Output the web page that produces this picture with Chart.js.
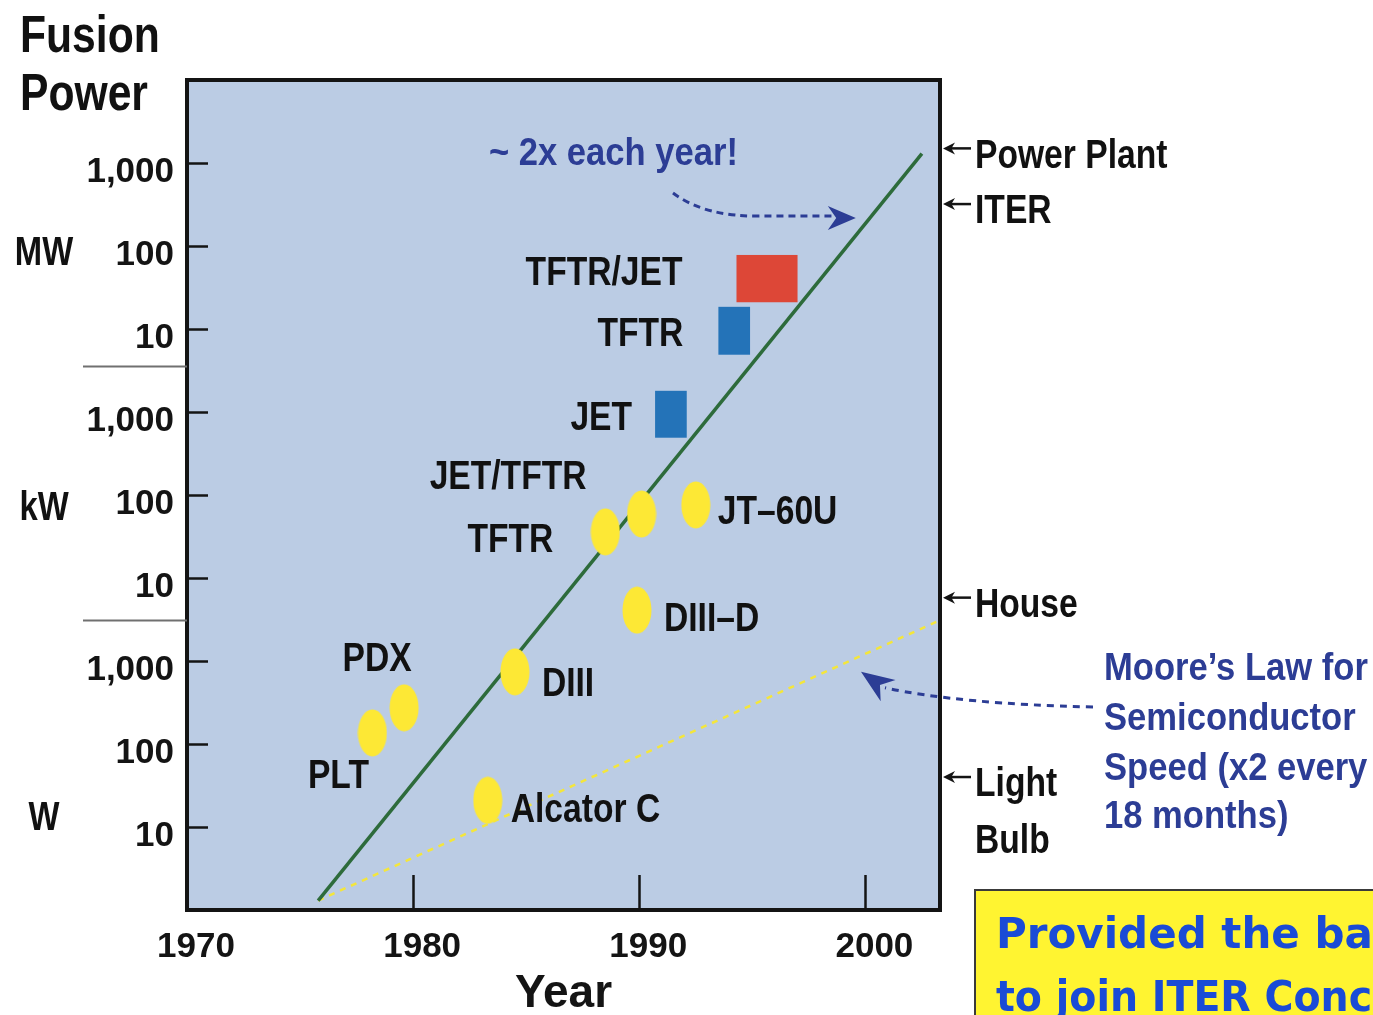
<!DOCTYPE html>
<html>
<head>
<meta charset="utf-8">
<title>Fusion Power</title>
<script src="https://cdn.jsdelivr.net/npm/chart.js@4.4.1/dist/chart.umd.min.js"></script>
<style>
  html, body { margin: 0; padding: 0; background: #ffffff; }
  #wrap { position: relative; width: 1373px; height: 1015px; }
</style>
</head>
<body>
<div id="wrap"><canvas id="fusion"></canvas></div>
<script>
// ---- Data -------------------------------------------------------------
// Tokamak results (year, fusion power in watts)
const shotNames = ['PLT', 'PDX', 'Alcator C', 'DIII', 'TFTR', 'JET/TFTR', 'JT–60U', 'DIII–D'];
const shotYears = [1978.2, 1979.6, 1983.3, 1984.5, 1988.5, 1990.1, 1992.5, 1989.9];
const shotWatts = [136, 273, 21, 740, 3.6e4, 5.9e4, 7.6e4, 4.1e3];

// Deuterium–tritium campaigns (year span, power span in watts)
const dtNames = ['TFTR/JET', 'TFTR', 'JET'];
const dtYearFrom = [1994.3, 1993.5, 1990.7];
const dtYearTo = [1997.0, 1994.9, 1992.1];
const dtWattLow = [2.1e7, 4.9e6, 4.9e5];
const dtWattHigh = [7.8e7, 1.85e7, 1.8e6];

// Trend lines
const fusionTrendYears = [1975.8, 2002.5];
const fusionTrendWatts = [1.3, 1.3e9];
const mooreYears = [1975.8, 2003.3];
const mooreWatts = [1.3, 3.1e3];

// Reference power levels marked on the right edge
const refNames = [['Power Plant'], ['ITER'], ['House'], ['Light', 'Bulb']];
const refWatts = [1.5e9, 3.2e8, 5.8e3, 40];

// Axis ticks
const yearTicks = [1970, 1980, 1990, 2000];
const wattTicks = [10, 100, 1e3, 1e4, 1e5, 1e6, 1e7, 1e8, 1e9];
const wattTickLabels = ['10', '100', '1,000', '10', '100', '1,000', '10', '100', '1,000'];
const unitNames = ['W', 'kW', 'MW'];
const unitTickWatts = [10, 1e5, 1e8];

// ---- Fonts ------------------------------------------------------------
const NARROW = '"Liberation Sans Narrow", "Arial Narrow", "Liberation Sans", Arial, sans-serif';
const WIDE = '"Liberation Sans", Arial, sans-serif';
function narrowAvailable() {
  const c = document.createElement('canvas').getContext('2d');
  c.font = 'bold 40px ' + WIDE;
  const w1 = c.measureText('MMMMMM').width;
  c.font = 'bold 40px ' + NARROW;
  const w2 = c.measureText('MMMMMM').width;
  return w2 < w1 * 0.92;
}
const HAS_NARROW = narrowAvailable();
const COND_FAMILY = HAS_NARROW ? NARROW : WIDE;
const COND_SX = HAS_NARROW ? 1 : 0.82;

function drawText(ctx, s, x, y, o) {
  ctx.save();
  ctx.font = 'bold ' + o.size + 'px ' + (o.family || COND_FAMILY);
  ctx.fillStyle = o.color || '#111111';
  ctx.textAlign = o.align || 'left';
  ctx.textBaseline = o.baseline || 'middle';
  ctx.translate(x, y);
  ctx.scale(o.sx !== undefined ? o.sx : COND_SX, 1);
  ctx.fillText(s, 0, 0);
  ctx.restore();
}

// ---- Styles -----------------------------------------------------------
const INK = '#141414';
const NAVY = '#2C3D95';
const PLOT_BG = '#BBCCE4';
const dtColors = ['#DD4737', '#2473B8', '#2473B8'];

// label placement relative to each mark (pixels)
const shotLabelPlace = [
  { dx: -34, dy: 44, align: 'center' },
  { dx: -27, dy: -48, align: 'center' },
  { dx: 23, dy: 10, align: 'left' },
  { dx: 27, dy: 13, align: 'left' },
  { dx: -52, dy: 9, align: 'right' },
  { dx: -55, dy: -36, align: 'right' },
  { dx: 22, dy: 8, align: 'left' },
  { dx: 27, dy: 10, align: 'left' }
];
const dtLabelPlace = [
  { dx: -54, dy: -5 },
  { dx: -35, dy: 4 },
  { dx: -23, dy: 4 }
];

// yellow elliptical marker
const ellipseMarker = (() => {
  const c = document.createElement('canvas');
  c.width = 30; c.height = 48;
  const g = c.getContext('2d');
  g.fillStyle = '#FDE835';
  g.beginPath();
  g.ellipse(15, 24, 14.5, 23.5, 0, 0, Math.PI * 2);
  g.fill();
  return c;
})();

function arrowHead(ctx, tipX, tipY, dirX, dirY, len, half, color) {
  const m = Math.hypot(dirX, dirY);
  const ux = dirX / m, uy = dirY / m;
  const px = -uy, py = ux;
  const bx = tipX - ux * len, by = tipY - uy * len;
  const nx = tipX - ux * len * 0.7, ny = tipY - uy * len * 0.7;
  ctx.save();
  ctx.fillStyle = color;
  ctx.beginPath();
  ctx.moveTo(tipX, tipY);
  ctx.lineTo(bx + px * half, by + py * half);
  ctx.lineTo(nx, ny);
  ctx.lineTo(bx - px * half, by - py * half);
  ctx.closePath();
  ctx.fill();
  ctx.restore();
}

// ---- Plugins ----------------------------------------------------------
const backdrop = {
  id: 'backdrop',
  beforeDraw(chart) {
    const { ctx, chartArea: a } = chart;
    ctx.save();
    ctx.fillStyle = PLOT_BG;
    ctx.fillRect(a.left, a.top, a.right - a.left, a.bottom - a.top);
    ctx.restore();
  }
};

const dtBoxes = {
  id: 'dtBoxes',
  beforeDatasetsDraw(chart) {
    const { ctx, scales: { x, y } } = chart;
    ctx.save();
    dtNames.forEach((name, i) => {
      const x0 = x.getPixelForValue(dtYearFrom[i]);
      const x1 = x.getPixelForValue(dtYearTo[i]);
      const y0 = y.getPixelForValue(dtWattHigh[i]);
      const y1 = y.getPixelForValue(dtWattLow[i]);
      ctx.fillStyle = dtColors[i];
      ctx.fillRect(x0, y0, x1 - x0, y1 - y0);
    });
    ctx.restore();
  },
  afterDatasetsDraw(chart) {
    const { ctx, scales: { x, y } } = chart;
    dtNames.forEach((name, i) => {
      const x0 = x.getPixelForValue(dtYearFrom[i]);
      const yc = (y.getPixelForValue(dtWattHigh[i]) + y.getPixelForValue(dtWattLow[i])) / 2;
      const p = dtLabelPlace[i];
      drawText(ctx, name, x0 + p.dx, yc + p.dy, { size: 41, align: 'right' });
    });
  }
};

const shotLabels = {
  id: 'shotLabels',
  afterDatasetsDraw(chart) {
    const { ctx, scales: { x, y } } = chart;
    shotNames.forEach((name, i) => {
      const px = x.getPixelForValue(shotYears[i]);
      const py = y.getPixelForValue(shotWatts[i]);
      const p = shotLabelPlace[i];
      drawText(ctx, name, px + p.dx, py + p.dy, { size: 41, align: p.align });
    });
  }
};

const frameAndAxes = {
  id: 'frameAndAxes',
  afterDatasetsDraw(chart) {
    const { ctx, chartArea: a, scales: { x, y } } = chart;
    ctx.save();
    // plot frame
    ctx.strokeStyle = INK;
    ctx.lineWidth = 4;
    ctx.strokeRect(a.left, a.top, a.right - a.left, a.bottom - a.top);
    // inward tick marks
    ctx.lineWidth = 2.5;
    ctx.beginPath();
    wattTicks.forEach(v => {
      const py = Math.round(y.getPixelForValue(v)) + 0.5;
      ctx.moveTo(a.left, py);
      ctx.lineTo(a.left + 21, py);
    });
    yearTicks.forEach(v => {
      if (v <= x.min) return;
      const px = Math.round(x.getPixelForValue(v)) + 0.5;
      ctx.moveTo(px, a.bottom);
      ctx.lineTo(px, a.bottom - 35);
    });
    ctx.stroke();
    // unit separators in the left margin
    ctx.strokeStyle = '#707070';
    ctx.lineWidth = 2;
    ctx.beginPath();
    [Math.pow(10, 6.55), Math.pow(10, 3.5)].forEach(v => {
      const py = Math.round(y.getPixelForValue(v)) + 0.5;
      ctx.moveTo(83, py);
      ctx.lineTo(a.left, py);
    });
    ctx.stroke();
    ctx.restore();
  }
};

const annotations = {
  id: 'annotations',
  afterDraw(chart) {
    const { ctx, chartArea: a, scales: { x, y } } = chart;

    // axis heading
    drawText(ctx, 'Fusion', 20, 52, { size: 52, baseline: 'alphabetic' });
    drawText(ctx, 'Power', 20, 110, { size: 52, baseline: 'alphabetic' });

    // unit names beside the tick labels
    const unitDy = [-8, 14, 8];
    unitNames.forEach((u, i) => {
      drawText(ctx, u, 44, y.getPixelForValue(unitTickWatts[i]) + unitDy[i], { size: 40, align: 'center' });
    });

    // reference levels on the right edge
    refNames.forEach((lines, i) => {
      const py = y.getPixelForValue(refWatts[i]);
      ctx.save();
      ctx.strokeStyle = INK;
      ctx.lineWidth = 2.5;
      ctx.beginPath();
      ctx.moveTo(a.right + 9, py);
      ctx.lineTo(a.right + 31, py);
      ctx.stroke();
      ctx.restore();
      arrowHead(ctx, a.right + 3, py, -1, 0, 12, 6, INK);
      lines.forEach((t, k) => {
        drawText(ctx, t, a.right + 35, py + 8 + k * 57, { size: 41 });
      });
    });

    // "~ 2x each year!" with dashed arrow onto the fusion trend
    drawText(ctx, '~ 2x each year!', 489, 155, { size: 38, color: NAVY, family: WIDE, sx: 0.91 });
    const tx0 = x.getPixelForValue(fusionTrendYears[0]), ty0 = y.getPixelForValue(fusionTrendWatts[0]);
    const tx1 = x.getPixelForValue(fusionTrendYears[1]), ty1 = y.getPixelForValue(fusionTrendWatts[1]);
    const tipY = 218;
    const tipX = tx0 + (tx1 - tx0) * (tipY - ty0) / (ty1 - ty0) - 14;
    ctx.save();
    ctx.strokeStyle = NAVY;
    ctx.lineWidth = 3;
    ctx.setLineDash([7, 5]);
    ctx.beginPath();
    ctx.moveTo(673, 193);
    ctx.quadraticCurveTo(705, 217, 760, 216);
    ctx.lineTo(tipX - 24, 216);
    ctx.stroke();
    ctx.restore();
    arrowHead(ctx, tipX, tipY, 1, 0, 28, 12, NAVY);

    // Moore's law note with dashed arrow onto its line
    const mooreLines = ['Moore’s Law for', 'Semiconductor', 'Speed (x2 every', '18 months)'];
    const mooreY = [670, 720, 770, 818];
    mooreLines.forEach((t, i) => drawText(ctx, t, 1104, mooreY[i], { size: 38, color: NAVY, family: WIDE, sx: 0.91 }));
    const mx0 = x.getPixelForValue(mooreYears[0]), my0 = y.getPixelForValue(mooreWatts[0]);
    const mx1 = x.getPixelForValue(mooreYears[1]), my1 = y.getPixelForValue(mooreWatts[1]);
    const mTipX = 861;
    const mTipY = my0 + (my1 - my0) * (mTipX - mx0) / (mx1 - mx0) + 16;
    ctx.save();
    ctx.strokeStyle = NAVY;
    ctx.lineWidth = 3;
    ctx.setLineDash([7, 6]);
    ctx.beginPath();
    ctx.moveTo(1093, 707);
    ctx.quadraticCurveTo(960, 704, mTipX + 24, mTipY + 16);
    ctx.stroke();
    ctx.restore();
    arrowHead(ctx, mTipX, mTipY, -23, -16, 33, 13, NAVY);

    // highlighted note box at the lower right
    ctx.save();
    ctx.fillStyle = '#FFF431';
    ctx.strokeStyle = '#3a3a3a';
    ctx.lineWidth = 2;
    ctx.fillRect(975, 890, 420, 140);
    ctx.strokeRect(975, 890, 420, 140);
    ctx.restore();
    drawText(ctx, 'Provided the basis', 996, 948, { size: 42, color: '#1A4BD6', family: '"DejaVu Sans", sans-serif', sx: 1, baseline: 'alphabetic' });
    drawText(ctx, 'to join ITER Conceptual', 996, 1011, { size: 42, color: '#1A4BD6', family: '"DejaVu Sans", sans-serif', sx: 0.94, baseline: 'alphabetic' });
  }
};

// ---- Chart ------------------------------------------------------------
const tickFont = { family: COND_FAMILY, size: HAS_NARROW ? 40 : 35, weight: 'bold' };

new Chart(document.getElementById('fusion'), {
  data: {
    datasets: [
      {
        type: 'scatter',
        label: 'Tokamak results',
        data: shotYears.map((yr, i) => ({ x: yr, y: shotWatts[i] })),
        pointStyle: ellipseMarker,
        order: 0
      },
      {
        type: 'line',
        label: 'Fusion power trend',
        data: fusionTrendYears.map((yr, i) => ({ x: yr, y: fusionTrendWatts[i] })),
        borderColor: '#2D6B3B',
        borderWidth: 3.5,
        pointRadius: 0,
        order: 1
      },
      {
        type: 'line',
        label: 'Moore’s law',
        data: mooreYears.map((yr, i) => ({ x: yr, y: mooreWatts[i] })),
        borderColor: '#F4E63B',
        borderWidth: 2.5,
        borderDash: [6, 6],
        pointRadius: 0,
        order: 2
      }
    ]
  },
  options: {
    responsive: true,
    maintainAspectRatio: false,
    animation: false,
    events: [],
    layout: { padding: { left: 0, right: 433, top: 80, bottom: 0 } },
    plugins: { legend: { display: false }, tooltip: { enabled: false } },
    scales: {
      x: {
        type: 'linear',
        min: 1970,
        max: 2003.3,
        afterBuildTicks: s => { s.ticks = yearTicks.map(v => ({ value: v })); },
        afterFit: s => { s.height = 105; },
        grid: { display: false, drawTicks: false },
        border: { display: false },
        ticks: {
          font: tickFont, color: INK, padding: 16, labelOffset: 9,
          maxRotation: 0, autoSkip: false, callback: v => String(v)
        },
        title: {
          display: true, text: 'Year', color: INK,
          font: { family: COND_FAMILY, size: HAS_NARROW ? 52 : 46, weight: 'bold', lineHeight: 0.9 },
          padding: { top: 0, bottom: 0 }
        }
      },
      y: {
        type: 'logarithmic',
        min: 1,
        max: 1e10,
        afterBuildTicks: s => { s.ticks = wattTicks.map(v => ({ value: v })); },
        afterFit: s => { s.width = 187; },
        grid: { display: false, drawTicks: false },
        border: { display: false },
        ticks: {
          font: tickFont, color: INK, padding: 13, labelOffset: 9,
          autoSkip: false, callback: (v, i) => wattTickLabels[i]
        }
      }
    }
  },
  plugins: [backdrop, dtBoxes, frameAndAxes, shotLabels, annotations]
});
</script>
</body>
</html>
